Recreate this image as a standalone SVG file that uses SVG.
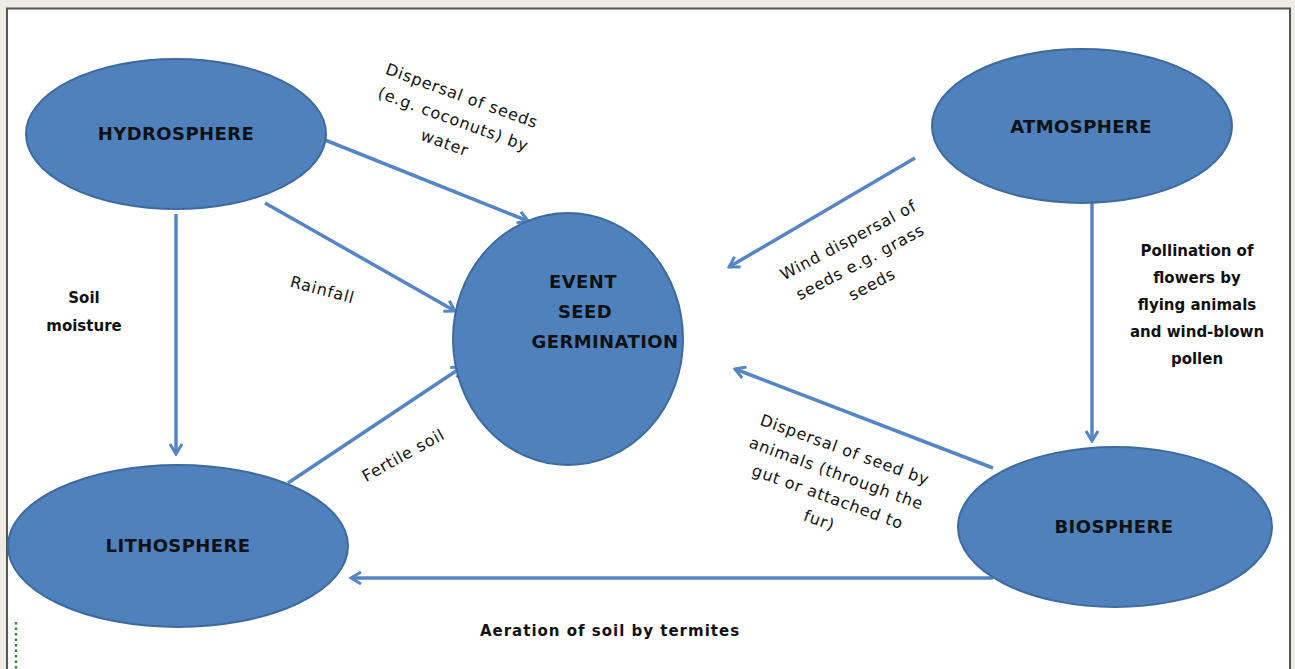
<svg xmlns="http://www.w3.org/2000/svg" width="1295" height="669" viewBox="0 0 1295 669">
<defs>
<style>
.node{fill:#4f81bd;stroke:#3e6a9e;stroke-width:2}
.nl{font-family:"DejaVu Sans",sans-serif;font-size:18px;font-weight:bold;fill:#111;text-anchor:middle;letter-spacing:0.4px}
.lb{font-family:"DejaVu Sans",sans-serif;font-size:16px;fill:#111;text-anchor:middle;letter-spacing:0.8px}
.lbb{font-family:"DejaVu Sans",sans-serif;font-size:15px;font-weight:bold;fill:#111;text-anchor:middle}
.c{stroke:#5585c4;stroke-width:3.5;fill:none;marker-end:url(#ah)}
</style>
<marker id="ah" viewBox="0 0 14 14" refX="12" refY="7" markerWidth="14" markerHeight="14" orient="auto" markerUnits="userSpaceOnUse">
<path d="M2,1 L12,7 L2,13" fill="none" stroke="#5585c4" stroke-width="3"/>
</marker>
</defs>
<rect x="0" y="0" width="1295" height="669" fill="#eeeae4"/>
<rect x="7" y="8.5" width="1283" height="670" fill="#ffffff" stroke="#555" stroke-width="2"/>
<line x1="16" y1="622" x2="16" y2="669" stroke="#2e8b3e" stroke-width="2.5" stroke-dasharray="2.5,3"/>

<g id="connectors">
<line class="c" x1="325" y1="140" x2="528" y2="221"/>
<line class="c" x1="265" y1="203" x2="455" y2="311"/>
<line class="c" x1="176" y1="214" x2="176" y2="454"/>
<line class="c" x1="288" y1="483" x2="462" y2="367"/>
<line class="c" x1="915" y1="158" x2="729" y2="267"/>
<line class="c" x1="1092" y1="203" x2="1092" y2="441"/>
<line class="c" x1="993" y1="468" x2="735" y2="369"/>
<line class="c" x1="993" y1="578" x2="351" y2="578"/>
<g transform="translate(460,101) rotate(20)">
<text class="lb" x="0" y="0">Dispersal of seeds</text>
<text class="lb" x="0" y="25">(e.g. coconuts) by</text>
<text class="lb" x="0" y="50">water</text>
</g>
<text class="lb" transform="translate(321,295) rotate(15)">Rainfall</text>
<text class="lbb" x="84" y="303">Soil</text>
<text class="lbb" x="84" y="331">moisture</text>
<text class="lb" transform="translate(406,460) rotate(-29)">Fertile soil</text>
<g transform="translate(851,245) rotate(-28)">
<text class="lb" x="0" y="0">Wind dispersal of</text>
<text class="lb" x="0" y="25">seeds e.g. grass</text>
<text class="lb" x="0" y="50">seeds</text>
</g>
<text class="lbb" x="1197" y="256">Pollination of</text>
<text class="lbb" x="1197" y="283">flowers by</text>
<text class="lbb" x="1197" y="310">flying animals</text>
<text class="lbb" x="1197" y="337">and wind-blown</text>
<text class="lbb" x="1197" y="364">pollen</text>
<g transform="translate(843,455) rotate(20)">
<text class="lb" x="0" y="0">Dispersal of seed by</text>
<text class="lb" x="0" y="25">animals (through the</text>
<text class="lb" x="0" y="50">gut or attached to</text>
<text class="lb" x="0" y="75">fur)</text>
</g>
<text class="lbb" x="610" y="636" style="letter-spacing:1px">Aeration of soil by termites</text>
</g>

<g id="hydrosphere">
<ellipse class="node" cx="176" cy="134" rx="150" ry="75"/>
<text class="nl" x="176" y="140">HYDROSPHERE</text>
</g>
<g id="atmosphere">
<ellipse class="node" cx="1082" cy="126" rx="150" ry="77"/>
<text class="nl" x="1081" y="133">ATMOSPHERE</text>
</g>
<g id="event">
<ellipse class="node" cx="568" cy="339" rx="115" ry="126"/>
<text class="nl" x="583" y="288">EVENT</text>
<text class="nl" x="585" y="318">SEED</text>
<text class="nl" x="605" y="348">GERMINATION</text>
</g>
<g id="lithosphere">
<ellipse class="node" cx="178" cy="546" rx="170" ry="81"/>
<text class="nl" x="178" y="552">LITHOSPHERE</text>
</g>
<g id="biosphere">
<ellipse class="node" cx="1115" cy="527" rx="157" ry="80"/>
<text class="nl" x="1114" y="533">BIOSPHERE</text>
</g>
</svg>
